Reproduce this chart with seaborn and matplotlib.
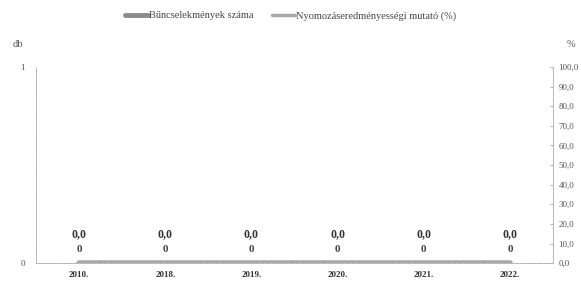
import numpy as np
import pandas as pd
import matplotlib
matplotlib.use("Agg")
import matplotlib.pyplot as plt
import seaborn as sns
from matplotlib.lines import Line2D

# chart data
years = ["2010.", "2018.", "2019.", "2020.", "2021.", "2022."]
crime_count = [0, 0, 0, 0, 0, 0]
clearance_rate = [0.0, 0.0, 0.0, 0.0, 0.0, 0.0]
pct_ticks = [0, 10, 20, 30, 40, 50, 60, 70, 80, 90, 100]

sns.set_style("white")
plt.rcParams["font.family"] = ["Liberation Serif", "DejaVu Serif"]

df = pd.DataFrame({"year": years, "count": crime_count, "rate": clearance_rate})
df["pos"] = np.arange(len(years))

fig = plt.figure(figsize=(5.81, 2.86), dpi=100)
ax = fig.add_axes([0.062, 0.080, 0.890, 0.686])

bar_col = "#8c8c8c"
line_col = "#a8a8a8"
axis_col = "#b4b4b4"

# bars (number of crimes)
sns.barplot(data=df, x="pos", y="count", color=bar_col, width=0.6, ax=ax)
ax.set_ylim(0, 1)
ax.set_yticks([0, 1])
ax.set_yticklabels(["0", "1"], fontsize=6.5, color="#555555")
ax.set_xlim(-0.5, len(years) - 0.5)
ax.set_xticks(df["pos"])
ax.set_xticklabels(years, fontsize=6.5, fontweight="bold", color="#333333")
ax.set_xlabel("")
ax.set_ylabel("")
ax.tick_params(axis="x", length=0, pad=6)
ax.tick_params(axis="y", length=0, pad=8)
for p, v in zip(df["pos"], df["count"]):
    ax.annotate(f"{v}", (p, v), xytext=(0, 8), textcoords="offset points",
                ha="center", fontsize=8, fontweight="bold", color="#444444")

# line (clearance rate) on the right axis
ax2 = ax.twinx()
sns.lineplot(data=df, x="pos", y="rate", color=line_col, linewidth=4, ax=ax2)
ax2.set_ylim(0, 100)
ax2.set_yticks(pct_ticks)
ax2.set_yticklabels([f"{t:.1f}".replace(".", ",") for t in pct_ticks],
                    fontsize=6.5, color="#555555")
ax2.tick_params(axis="y", length=2, direction="in", color=axis_col, pad=4)
ax2.set_ylabel("")
for p, v in zip(df["pos"], df["rate"]):
    ax2.annotate(f"{v:.1f}".replace(".", ","), (p, v), xytext=(0, 19),
                 textcoords="offset points", ha="center", fontsize=8.5,
                 fontweight="bold", color="#333333")

for a in (ax, ax2):
    a.spines["top"].set_visible(False)
    for side in ("left", "right", "bottom"):
        a.spines[side].set_color(axis_col)
        a.spines[side].set_linestyle((0, (1, 1.5)))
        a.spines[side].set_linewidth(0.7)

fig.text(0.022, 0.835, "db", fontsize=7.5, color="#555555")
fig.text(0.99, 0.835, "%", fontsize=7.5, color="#555555", ha="right")

handles = [Line2D([0], [0], color=bar_col, lw=3.5),
           Line2D([0], [0], color=line_col, lw=2.5)]
fig.legend(handles, ["Bűncselekmények száma", "Nyomozáseredményességi mutató (%)"],
           loc="center", bbox_to_anchor=(0.5, 0.945), ncol=2, frameon=False,
           fontsize=7.5, handlelength=2.2, handletextpad=0.1, columnspacing=1.8,
           labelcolor="#444444")

fig.savefig("out.png", dpi=100)
